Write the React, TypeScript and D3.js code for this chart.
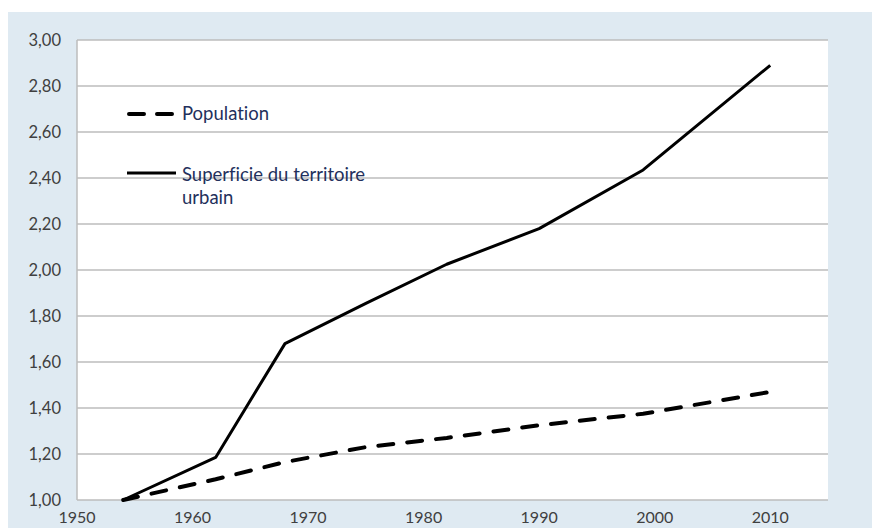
import React, { useEffect, useRef } from "react";
import * as d3 from "d3";

// census years and index values (base 1954 = 1,00)
const years = [1954, 1962, 1968, 1975, 1982, 1990, 1999, 2010];
const population = [1.0, 1.09, 1.165, 1.23, 1.27, 1.325, 1.375, 1.47];
const superficie = [1.0, 1.185, 1.68, 1.855, 2.025, 2.18, 2.435, 2.89];

const yearTicks = [1950, 1960, 1970, 1980, 1990, 2000, 2010];
const valueTicks = [1.0, 1.2, 1.4, 1.6, 1.8, 2.0, 2.2, 2.4, 2.6, 2.8, 3.0];

const legendPopulation = "Population";
const legendSuperficie = ["Superficie du territoire", "urbain"];

const width = 872;
const height = 528;
const margin = { top: 40, right: 44, bottom: 28, left: 77 };

const fr = d3.formatLocale({ decimal: ",", thousands: " ", grouping: [3], currency: ["", " €"] });
const fmt = fr.format(".2f");

export default function App() {
  const ref = useRef<SVGSVGElement | null>(null);

  useEffect(() => {
    const svg = d3.select(ref.current);
    svg.selectAll("*").remove();

    const font = "Lato, 'Open Sans', sans-serif";

    let x = d3.scaleLinear()
      .domain([1950, 2015])
      .range([margin.left, width - margin.right]);

    let y = d3.scaleLinear()
      .domain([1, 3])
      .range([height - margin.bottom, margin.top]);

    // page background
    svg.append("rect").attr("x", 0).attr("y", 0).attr("width", width).attr("height", height).attr("fill", "#ffffff");
    svg.append("rect").attr("x", 8).attr("y", 12).attr("width", width - 8).attr("height", height - 12).attr("fill", "#dfeaf2");

    // plot area
    svg.append("rect")
      .attr("x", x(1950)).attr("y", y(3))
      .attr("width", x(2015) - x(1950)).attr("height", y(1) - y(3))
      .attr("fill", "#ffffff");

    // gridlines
    svg.append("g")
      .selectAll("line")
      .data(valueTicks)
      .enter().append("line")
      .attr("x1", x(1950)).attr("x2", x(2015))
      .attr("y1", d => y(d)).attr("y2", d => y(d))
      .attr("stroke", "#bdbdbd")
      .attr("stroke-width", 1.5);

    // left axis line
    svg.append("line")
      .attr("x1", x(1950)).attr("x2", x(1950))
      .attr("y1", y(1)).attr("y2", y(3))
      .attr("stroke", "#bdbdbd").attr("stroke-width", 1.5);

    // y labels
    svg.append("g")
      .selectAll("text")
      .data(valueTicks)
      .enter().append("text")
      .attr("x", x(1950) - 16)
      .attr("y", d => y(d))
      .attr("dy", "0.35em")
      .attr("text-anchor", "end")
      .style("font-family", font)
      .style("font-size", "16.5px")
      .attr("fill", "#404040")
      .text(d => fmt(d));

    // x labels
    svg.append("g")
      .selectAll("text")
      .data(yearTicks)
      .enter().append("text")
      .attr("x", d => x(d))
      .attr("y", height - 5)
      .attr("text-anchor", "middle")
      .style("font-family", font)
      .style("font-size", "16px")
      .attr("fill", "#404040")
      .text(d => d);

    const line = d3.line<number>()
      .x((d, i) => x(years[i]))
      .y(d => y(d));

    svg.append("path")
      .datum(superficie)
      .attr("d", line)
      .attr("fill", "none")
      .attr("stroke", "#000")
      .attr("stroke-width", 3)
      .attr("stroke-linejoin", "round");

    svg.append("path")
      .datum(population)
      .attr("d", line)
      .attr("fill", "none")
      .attr("stroke", "#000")
      .attr("stroke-width", 4)
      .attr("stroke-dasharray", "15,14")
      .attr("stroke-linecap", "round");

    // legend
    const leg = svg.append("g")
      .style("font-family", font)
      .style("font-size", "18.5px")
      .style("font-variant-ligatures", "none")
      .attr("fill", "#23305c");
    leg.append("line")
      .attr("x1", 129).attr("x2", 174).attr("y1", 114).attr("y2", 114)
      .attr("stroke", "#000").attr("stroke-width", 4)
      .attr("stroke-dasharray", "15,13").attr("stroke-linecap", "round");
    leg.append("text").attr("x", 182).attr("y", 120).text(legendPopulation);
    leg.append("line")
      .attr("x1", 127).attr("x2", 176).attr("y1", 173).attr("y2", 173)
      .attr("stroke", "#000").attr("stroke-width", 3);
    leg.selectAll("text.sup")
      .data(legendSuperficie)
      .enter().append("text")
      .attr("class", "sup")
      .attr("x", 182)
      .attr("y", (d, i) => 181 + i * 23)
      .text(d => d);
  }, []);

  return (
    <svg width={width} height={height} ref={ref}
      style={{ position: "absolute", left: 0, top: 0 }}></svg>
  );
}
